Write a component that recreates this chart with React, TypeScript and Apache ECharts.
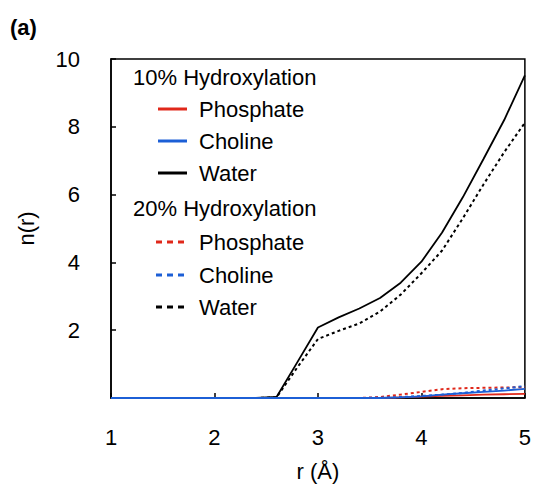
import React, { useEffect, useRef } from "react";
import * as echarts from "echarts";

const rValues = [1.0, 1.2, 1.4, 1.6, 1.8, 2.0, 2.2, 2.4, 2.6, 2.8, 3.0, 3.2, 3.4, 3.6, 3.8, 4.0, 4.2, 4.4, 4.6, 4.8, 5.0];

const phosphate10 = [0, 0, 0, 0, 0, 0, 0, 0, 0, 0, 0, 0, 0, 0, 0.02, 0.04, 0.06, 0.08, 0.1, 0.11, 0.12];
const choline10 = [0, 0, 0, 0, 0, 0, 0, 0, 0, 0, 0, 0, 0, 0, 0.02, 0.05, 0.1, 0.14, 0.18, 0.22, 0.27];
const water10 = [0, 0, 0, 0, 0, 0, 0, 0, 0.03, 1.05, 2.08, 2.38, 2.64, 2.95, 3.4, 4.02, 4.88, 5.92, 7.05, 8.2, 9.52];

const phosphate20 = [0, 0, 0, 0, 0, 0, 0, 0, 0, 0, 0, 0, 0, 0.03, 0.1, 0.18, 0.26, 0.29, 0.3, 0.31, 0.32];
const choline20 = [0, 0, 0, 0, 0, 0, 0, 0, 0, 0, 0, 0, 0, 0.01, 0.03, 0.06, 0.1, 0.15, 0.22, 0.28, 0.35];
const water20 = [0, 0, 0, 0, 0, 0, 0, 0, 0.02, 0.9, 1.74, 1.98, 2.2, 2.55, 3.05, 3.68, 4.35, 5.3, 6.3, 7.25, 8.12];

const legendTitles = ["10% Hydroxylation", "20% Hydroxylation"];
const legendNames = ["Phosphate", "Choline", "Water"];

const RED = "#e0281a";
const BLUE = "#1c5fd6";
const BLACK = "#000000";
const FONT = "'Liberation Sans', Arial, Helvetica, sans-serif";

const pairs = (ys: number[]) => rValues.map((x, i) => [x, ys[i]]);

export default function App() {
  const ref = useRef<HTMLDivElement>(null);

  useEffect(() => {
    if (!ref.current) return;
    const chart = echarts.init(ref.current, undefined, { renderer: "svg" });

    const solid = (name: string, data: number[], color: string) => ({
      name,
      type: "line",
      data: pairs(data),
      showSymbol: false,
      symbol: "none",
      lineStyle: { color, width: 1.8, type: "solid" },
      itemStyle: { color },
    });
    const dashed = (name: string, data: number[], color: string) => ({
      name,
      type: "line",
      data: pairs(data),
      showSymbol: false,
      symbol: "none",
      lineStyle: { color, width: 2, type: [3, 3] },
      itemStyle: { color },
    });

    const colors = [RED, BLUE, BLACK];
    const rows1 = [109, 141, 173];
    const rows2 = [242, 275, 307];
    const LF = `22px ${FONT}`;
    const graphics: any[] = [
      {
        type: "text",
        left: 10,
        top: 16,
        style: { text: "(a)", font: `bold 22px ${FONT}`, fill: "#000" },
      },
      {
        type: "text",
        x: 133,
        y: 77,
        style: { text: legendTitles[0], font: LF, fill: "#000", verticalAlign: "middle" },
      },
      {
        type: "text",
        x: 133,
        y: 208,
        style: { text: legendTitles[1], font: LF, fill: "#000", verticalAlign: "middle" },
      },
    ];
    legendNames.forEach((n, i) => {
      graphics.push({
        type: "line",
        shape: { x1: 158, y1: rows1[i], x2: 187, y2: rows1[i] },
        style: { stroke: colors[i], lineWidth: 3 },
      });
      graphics.push({
        type: "text",
        x: 199,
        y: rows1[i],
        style: { text: n, font: LF, fill: "#000", verticalAlign: "middle" },
      });
      graphics.push({
        type: "line",
        shape: { x1: 156, y1: rows2[i], x2: 188, y2: rows2[i] },
        style: { stroke: colors[i], lineWidth: 3, lineDash: [6, 5] },
      });
      graphics.push({
        type: "text",
        x: 199,
        y: rows2[i],
        style: { text: n, font: LF, fill: "#000", verticalAlign: "middle" },
      });
    });

    chart.setOption({
      animation: false,
      backgroundColor: "#ffffff",
      grid: {
        left: 111,
        right: 9,
        top: 59,
        bottom: 88,
        show: true,
        borderColor: "#000",
        borderWidth: 1.5,
        backgroundColor: "transparent",
      },
      xAxis: {
        type: "value",
        min: 1,
        max: 5,
        interval: 1,
        name: "r (Å)",
        nameLocation: "middle",
        nameGap: 62,
        nameTextStyle: { fontSize: 22, fontFamily: FONT, color: "#000" },
        axisLine: { show: true, lineStyle: { color: "#000", width: 1.5 } },
        axisTick: { show: true, inside: true, length: 5, lineStyle: { color: "#000", width: 1.5 } },
        axisLabel: { fontSize: 22, fontFamily: FONT, color: "#000", margin: 28 },
        splitLine: { show: false },
      },
      yAxis: {
        type: "value",
        min: 0,
        max: 10,
        interval: 2,
        name: "n(r)",
        nameLocation: "middle",
        nameGap: 74,
        nameRotate: 90,
        nameTextStyle: { fontSize: 22, fontFamily: FONT, color: "#000" },
        axisLine: { show: true, lineStyle: { color: "#000", width: 1.5 } },
        axisTick: { show: true, inside: true, length: 5, lineStyle: { color: "#000", width: 1.5 } },
        axisLabel: {
          fontSize: 22,
          fontFamily: FONT,
          color: "#000",
          margin: 31,
          formatter: (v: number) => (v === 0 ? "" : String(v)),
        },
        splitLine: { show: false },
      },
      series: [
        solid("Water (10%)", water10, BLACK),
        dashed("Water (20%)", water20, BLACK),
        solid("Phosphate (10%)", phosphate10, RED),
        solid("Choline (10%)", choline10, BLUE),
        dashed("Phosphate (20%)", phosphate20, RED),
        dashed("Choline (20%)", choline20, BLUE),
      ],
      graphic: graphics,
    });

    return () => chart.dispose();
  }, []);

  return (
    <div
      ref={ref}
      style={{ position: "fixed", left: 0, top: 0, width: 534, height: 487, background: "#fff" }}
    />
  );
}
